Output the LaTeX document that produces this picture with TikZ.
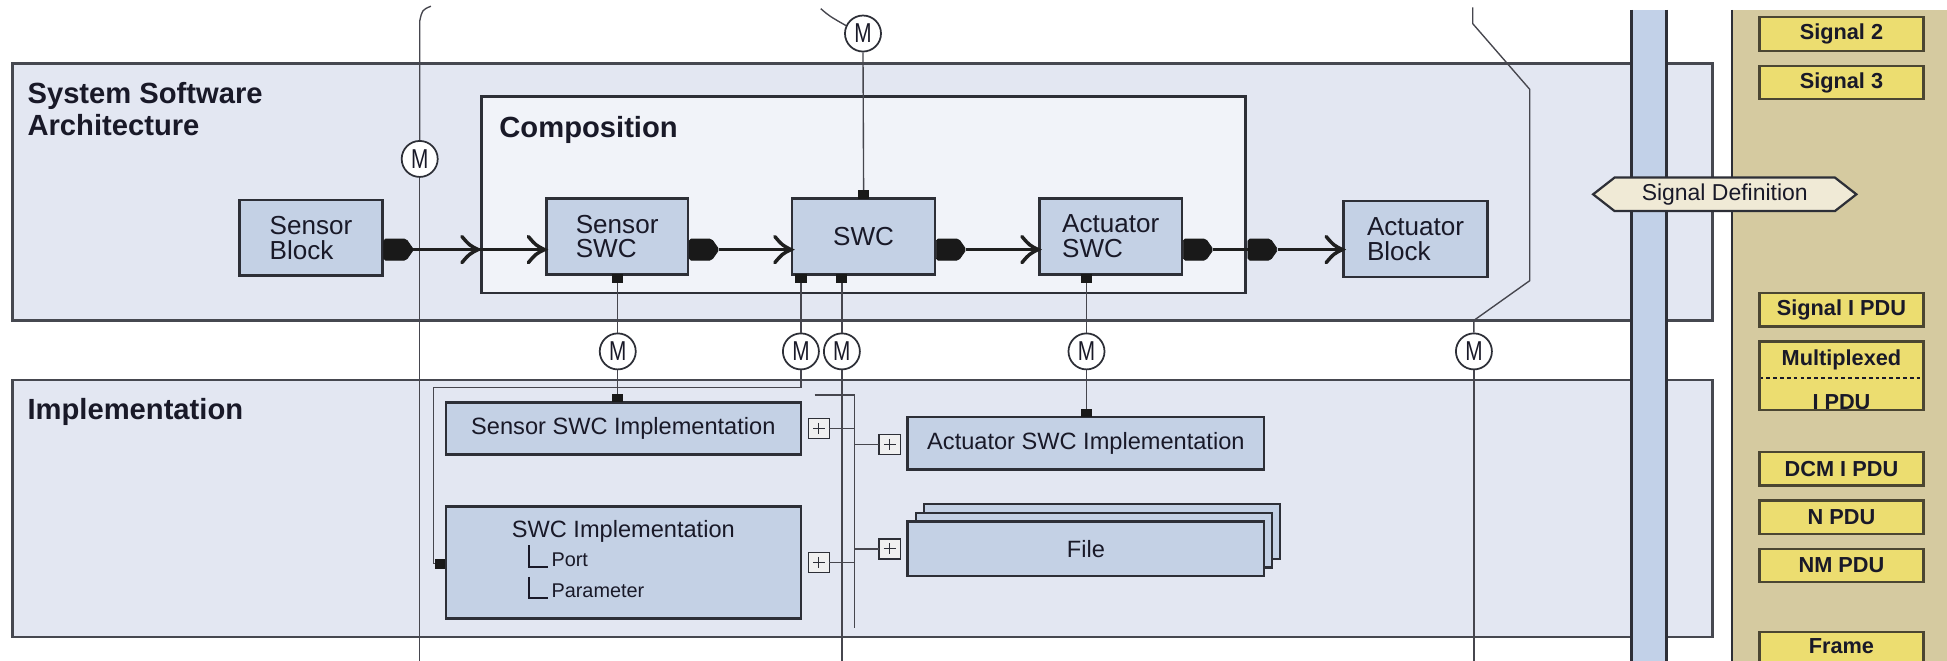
\documentclass[tikz,border=0pt]{standalone}
\usepackage{fontspec}
\setmainfont{Liberation Sans}
\usetikzlibrary{shapes.symbols,calc}
\definecolor{panelfill}{RGB}{227,231,242}
\definecolor{panedge}{RGB}{70,72,80}
\definecolor{compfill}{RGB}{241,243,249}
\definecolor{boxfill}{RGB}{196,209,229}
\definecolor{edge}{RGB}{45,47,55}
\definecolor{busfill}{RGB}{194,209,232}
\definecolor{tanfill}{RGB}{213,202,160}
\definecolor{sigfill}{RGB}{236,221,112}
\definecolor{sigedge}{RGB}{75,70,50}
\definecolor{hexfill}{RGB}{240,234,214}
\definecolor{txt}{RGB}{25,25,40}
\definecolor{linegray}{RGB}{70,70,78}
\begin{document}
\begin{tikzpicture}[x=1pt,y=-1pt,
  panelbox/.style={draw=panedge, line width=2.2pt, fill=panelfill},
  compbox/.style={draw=edge, line width=2.2pt, fill=compfill},
  busedge/.style={draw=edge, line width=3pt},
  hdr/.style={font=\fontsize{23.5}{26}\selectfont\bfseries, text=txt, inner sep=0pt},
  blk/.style={draw=edge, line width=2pt, fill=boxfill, inner sep=0pt, outer sep=0pt, align=left,
    anchor=north west, font=\fontsize{21}{20}\selectfont, text=txt},
  iblk/.style={draw=edge, line width=2pt, fill=boxfill, inner sep=0pt, outer sep=0pt,
    anchor=north west, font=\fontsize{19}{19}\selectfont, text=txt},
  itxt/.style={font=\fontsize{19}{19}\selectfont, text=txt, inner sep=0pt},
  smalltxt/.style={font=\fontsize{16}{16}\selectfont, text=txt, inner sep=0pt},
  oport/.style={signal, signal to=east, signal pointer angle=110, fill=black!90, draw=black!90,
    line width=0.6pt, rounded corners=1.5pt, minimum width=24pt, minimum height=17pt, inner sep=0pt, outer sep=0pt, anchor=west},
  sport/.style={fill=black!90, inner sep=0pt, outer sep=0pt, minimum width=9pt, minimum height=7pt},
  mcirc/.style={circle, draw=edge, line width=1.4pt, fill=white, minimum size=29pt, inner sep=0pt,
    font=\fontsize{22}{22}\selectfont, text=txt},
  mline/.style={draw=linegray, line width=1.1pt},
  flowline/.style={draw=black!88, line width=2.3pt},
  plusbox/.style={draw=edge, line width=1.2pt, fill=black!6, minimum width=17pt, minimum height=16pt,
    inner sep=0pt, outer sep=0pt,
    path picture={\draw[line width=0.9pt, draw=edge]
      ($(path picture bounding box.north)!0.22!(path picture bounding box.south)$) --
      ($(path picture bounding box.north)!0.78!(path picture bounding box.south)$)
      ($(path picture bounding box.west)!0.22!(path picture bounding box.east)$) --
      ($(path picture bounding box.west)!0.78!(path picture bounding box.east)$);}},
  sigbox/.style={draw=sigedge, line width=1.8pt, fill=sigfill, minimum width=132pt, minimum height=27pt,
    inner sep=0pt, outer sep=0pt, anchor=north west, font=\fontsize{17.5}{17.5}\selectfont\bfseries, text=txt},
  sigtxt/.style={font=\fontsize{17.5}{17.5}\selectfont\bfseries, text=txt, inner sep=0pt},
  chev/.pic={\draw[line width=2.8pt, line cap=round, draw=black!88]
    (-13,-10.5) .. controls (-7,-3.5) .. (0,0) .. controls (-7,3.5) .. (-13,10.5);}
]
\useasboundingbox (0,0) rectangle (1568,532);
\clip (0,0) rectangle (1568,532);
\fill[white] (0,0) rectangle (1568,532);

% right-hand tan area
\fill[tanfill] (1395,8) rectangle (1580,545);
\draw[line width=2pt, draw=edge] (1395,8) -- (1395,545);

% panels
\draw[panelbox] (10,51) rectangle (1379,258);
\draw[panelbox] (10,306) rectangle (1379,513);
\draw[compbox] (388,78) rectangle (1003,236);

% bus
\fill[busfill] (1314,8) rectangle (1342,545);
\draw[busedge] (1314,8) -- (1314,545);
\draw[busedge] (1342,8) -- (1342,545);

% headers
\node[hdr, anchor=base west] (tssa1) at (22,83) {System Software};
\node[hdr, anchor=base west] (tssa2) at (22,109) {Architecture};
\node[hdr, anchor=base west] (tcomp) at (402,111) {Composition};
\node[hdr, anchor=base west] (timpl) at (22,338) {Implementation};

% M nodes
\node[mcirc] (mleft) at (338,128) {\scalebox{0.76}[1]{M}};
\node[mcirc] (mtop) at (695,27) {\scalebox{0.76}[1]{M}};
\node[mcirc] (m1) at (497.5,283) {\scalebox{0.76}[1]{M}};
\node[mcirc] (m2) at (645,283) {\scalebox{0.76}[1]{M}};
\node[mcirc] (m3) at (678,283) {\scalebox{0.76}[1]{M}};
\node[mcirc] (m4) at (875,283) {\scalebox{0.76}[1]{M}};
\node[mcirc] (m5) at (1187,283) {\scalebox{0.76}[1]{M}};

% free ends
\coordinate (ltop) at (347,5);
\coordinate (lbot) at (338,545);
\coordinate (mtopend) at (661,7);
\coordinate (rtop) at (1186,6);
\coordinate (rbot) at (1187,545);
\coordinate (m3bot) at (678,545);
\coordinate (brA) at (349,312);
\coordinate (brT) at (656,318);
\coordinate (brC) at (688,318);
\coordinate (brB) at (688,506);

% long thin lines
\draw[mline] (ltop) .. controls (340,8) .. (338,17) -- (mleft.north);
\draw[mline] (mleft.south) -- (lbot);
\draw[mline] (rtop) -- (1186,19) -- (1232,72) -- (1232,226) -- (1187,258) -- (m5.north);
\draw[mline] (m5.south) -- (rbot);

% blocks
\node[blk, minimum width=115pt, minimum height=61pt] (sblock) at (193,161) {Sensor\\Block};
\node[blk, minimum width=114pt, minimum height=61pt] (sswc) at (440,160) {Sensor\\SWC};
\node[blk, minimum width=115pt, minimum height=61pt] (swc) at (638,160) {SWC};
\node[blk, minimum width=115pt, minimum height=61pt] (aswc) at (837,160) {Actuator\\SWC};
\node[blk, minimum width=116pt, minimum height=61pt] (ablock) at (1082,162) {Actuator\\Block};

% sender ports
\node[oport] (p1) at (309,201) {};
\node[oport] (p2) at (555,201) {};
\node[oport] (p3) at (754,201) {};
\node[oport] (p4) at (953,201) {};
\node[oport] (p5) at (1005,201) {};

% flow connectors
\draw[flowline] (p1.east) -- (p1.east -| sswc.west);
\draw[flowline] (p2.east) -- (p2.east -| swc.west);
\draw[flowline] (p3.east) -- (p3.east -| aswc.west);
\draw[flowline] (p4.east) -- (p5.west);
\draw[flowline] (p5.east) -- (p5.east -| ablock.west);
\pic at (385,201) {chev};
\pic at (438.5,201) {chev};
\pic at (637,201) {chev};
\pic at (836,201) {chev};
\pic at (1081,201) {chev};

% service ports
\node[sport] (spswctop) at (695.5,156.5) {};
\node[sport] (spsswc) at (497.5,224.5) {};
\node[sport] (spswca) at (645,224.5) {};
\node[sport] (spswcb) at (678,224.5) {};
\node[sport] (spaswc) at (875,224.5) {};

% implementation boxes
\node[iblk, minimum width=286pt, minimum height=42pt] (simpl) at (359,324) {Sensor SWC Implementation};
\node[iblk, minimum width=286pt, minimum height=90pt] (swcimpl) at (359,408) {};
\node[itxt, anchor=base] (tswcimpl) at (502,432.5) {SWC Implementation};
\node[smalltxt, anchor=base west] (tport) at (444,456.5) {Port};
\node[smalltxt, anchor=base west] (tparam) at (444,481.5) {Parameter};
\draw[draw=txt, line width=1.3pt] (426,439) |- (441,456.5);
\draw[draw=txt, line width=1.3pt] (426,464.5) |- (441,481.5);
\node[iblk, minimum width=287pt, minimum height=42pt] (aimpl) at (731,336) {Actuator SWC Implementation};
\node[iblk, minimum width=287pt, minimum height=44pt] (file3) at (744,406) {};
\node[iblk, minimum width=287pt, minimum height=44pt] (file2) at (737.5,413) {};
\node[iblk, minimum width=287pt, minimum height=44pt] (file) at (731,420) {File};

\node[sport] (spsimpl) at (497.5,320.5) {};
\node[sport] (spaimpl) at (875,332.5) {};
\node[sport, minimum width=8pt, minimum height=8pt] (spimpl) at (354.5,454) {};

% M connections
\draw[mline] (spswctop.north) -- (mtop.south);
\draw[mline] (mtop.155) .. controls (668,13) .. (mtopend);
\draw[mline] (spsswc.south) -- (m1.north);
\draw[mline] (m1.south) -- (spsimpl.north);
\draw[mline] (spswca.south) -- (m2.north);
\draw[mline] (m2.south) |- (brA) |- (spimpl.west);
\draw[mline] (spswcb.south) -- (m3.north);
\draw[mline] (m3.south) -- (m3bot);
\draw[mline] (spaswc.south) -- (m4.north);
\draw[mline] (m4.south) -- (spaimpl.north);

% bracket and plus boxes
\draw[mline] (brT) -- (brC) -- (brB);
\node[plusbox] (pl1) at (659.5,345) {};
\node[plusbox] (pl2) at (659.5,453) {};
\node[plusbox] (pl3) at (716.5,358) {};
\node[plusbox] (pl4) at (716.5,442) {};
\draw[mline] (pl1.east) -- (pl1.east -| brC);
\draw[mline] (pl2.east) -- (pl2.east -| brC);
\draw[mline] (pl3.west -| brC) -- (pl3.west);
\draw[mline] (pl4.west -| brC) -- (pl4.west);

% signal definition
\node[signal, signal to=west and east, signal pointer angle=76, draw=edge, line width=1.8pt, fill=hexfill,
  minimum width=212pt, minimum height=27pt, inner sep=0pt, font=\fontsize{18.5}{18.5}\selectfont, text=txt]
  (sigdef) at (1389,156.5) {Signal Definition};

% signal boxes
\node[sigbox] (sig2) at (1417,14) {Signal 2};
\node[sigbox] (sig3) at (1417,53) {Signal 3};
\node[sigbox] (sigipdu) at (1417,236) {Signal I PDU};
\node[sigbox, minimum height=55pt] (mux) at (1417,275) {};
\node[sigtxt] (tmux) at (1483,290) {Multiplexed};
\node[sigtxt, anchor=base] (tmuxb) at (1483,330) {I PDU};
\draw[draw=txt, line width=1.5pt, dash pattern=on 3pt off 2.5pt] ($(mux.west |- tmux.south)+(0,6)$) -- ($(mux.east |- tmux.south)+(0,6)$);
\draw[draw=sigedge, line width=1.8pt] (mux.north west) rectangle (mux.south east);
\node[sigbox] (dcm) at (1417,364) {DCM I PDU};
\node[sigbox] (npdu) at (1417,403) {N PDU};
\node[sigbox] (nmpdu) at (1417,442) {NM PDU};
\node[sigbox, minimum height=34pt] (frame) at (1417,509) {};
\node[sigtxt] (tframe) at (1483,520) {Frame};
\end{tikzpicture}
\end{document}
